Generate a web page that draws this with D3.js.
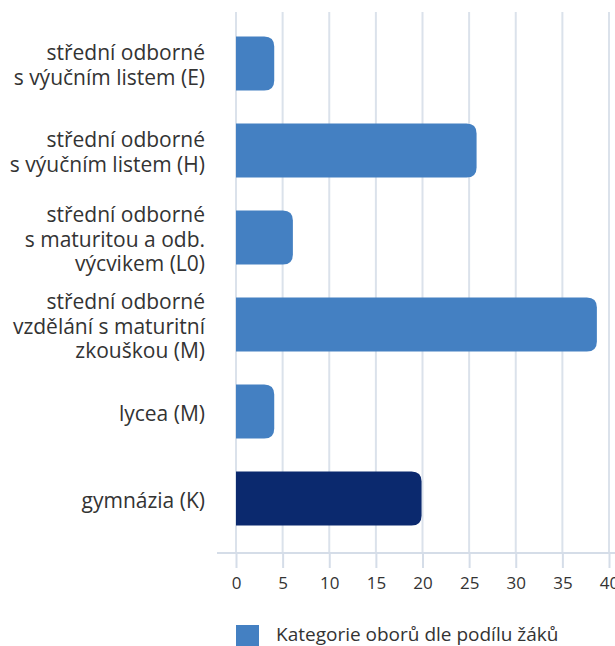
<!DOCTYPE html>
<html>
<head>
<meta charset="utf-8">
<script src="https://cdn.jsdelivr.net/npm/d3@7"></script>
<style>
  body { margin: 0; background: #fff; }
  svg { display: block; font-family: "Open Sans", "Noto Sans", sans-serif; }
</style>
</head>
<body>
<div id="chart"></div>
<script>
// data
var categories = [
  ["střední odborné", "s výučním listem (E)"],
  ["střední odborné", "s výučním listem (H)"],
  ["střední odborné", "s maturitou a odb.", "výcvikem (L0)"],
  ["střední odborné", "vzdělání s maturitní", "zkouškou (M)"],
  ["lycea (M)"],
  ["gymnázia (K)"]
];
var values = [4.1, 25.8, 6.1, 38.7, 4.1, 19.9];
var barColors = ["#4480c2", "#4480c2", "#4480c2", "#4480c2", "#4480c2", "#0b296e"];
var ticks = [0, 5, 10, 15, 20, 25, 30, 35, 40];
var seriesName = "Kategorie oborů dle podílu žáků";

var width = 615;
var height = 646;
var plotLeft = 236;
var plotRight = 609;
var plotTop = 20;
var plotBottom = 542;
var axisY = 553;

var svg = d3.select("#chart")
  .append("svg")
  .attr("width", width)
  .attr("height", height);

var xScale = d3.scaleLinear().domain([0, 40]).range([plotLeft, plotRight]);
var yScale = d3.scaleBand()
  .domain(d3.range(categories.length))
  .range([plotTop, plotBottom])
  .paddingInner(0.38)
  .paddingOuter(0.19);

// gridlines
svg.append("g")
  .selectAll("line")
  .data(ticks)
  .enter()
  .append("line")
  .attr("x1", function(d) { return xScale(d); })
  .attr("x2", function(d) { return xScale(d); })
  .attr("y1", 12)
  .attr("y2", axisY)
  .attr("stroke", "#dbe2eb")
  .attr("stroke-width", 2);

// x axis
var xAxis = d3.axisBottom(xScale).tickValues(ticks).tickSize(15).tickPadding(9);
var gx = svg.append("g")
  .attr("transform", "translate(0," + axisY + ")")
  .call(xAxis);
gx.select(".domain").remove();
gx.selectAll(".tick line").attr("stroke", "#d5dde8").attr("stroke-width", 2);
gx.selectAll(".tick text")
  .attr("fill", "#333")
  .attr("font-size", 17)
  .attr("font-family", "Open Sans, Noto Sans, sans-serif");
gx.append("line")
  .attr("x1", 217)
  .attr("x2", width)
  .attr("y1", 0)
  .attr("y2", 0)
  .attr("stroke", "#d5dde8")
  .attr("stroke-width", 2);

// bars with rounded right end
var r = 10;
svg.append("g")
  .selectAll("path")
  .data(values)
  .enter()
  .append("path")
  .attr("fill", function(d, i) { return barColors[i]; })
  .attr("d", function(d, i) {
    var x0 = xScale(0), x1 = xScale(d);
    var y0 = yScale(i), h = yScale.bandwidth();
    var rr = Math.min(r, (x1 - x0) / 2, h / 2);
    return "M" + x0 + "," + y0 +
      "H" + (x1 - rr) +
      "Q" + x1 + "," + y0 + " " + x1 + "," + (y0 + rr) +
      "V" + (y0 + h - rr) +
      "Q" + x1 + "," + (y0 + h) + " " + (x1 - rr) + "," + (y0 + h) +
      "H" + x0 + "Z";
  });

// category labels
var lineH = 24.5;
var labels = svg.append("g")
  .selectAll("text")
  .data(categories)
  .enter()
  .append("text")
  .attr("text-anchor", "end")
  .attr("fill", "#333")
  .attr("font-size", 21)
  .attr("y", function(d, i) {
    return yScale(i) + yScale.bandwidth() / 2 - (d.length - 1) * lineH / 2 + 9;
  });
labels.each(function(d) {
  var t = d3.select(this);
  var y = t.attr("y");
  d.forEach(function(line, k) {
    t.append("tspan")
      .attr("x", 205)
      .attr("y", +y + k * lineH)
      .text(line);
  });
});

// legend
svg.append("rect")
  .attr("x", 236)
  .attr("y", 625)
  .attr("width", 23)
  .attr("height", 21)
  .attr("fill", barColors[0]);
svg.append("text")
  .attr("x", 276)
  .attr("y", 641)
  .attr("fill", "#333")
  .attr("font-size", 19)
  .text(seriesName);
</script>
</body>
</html>
